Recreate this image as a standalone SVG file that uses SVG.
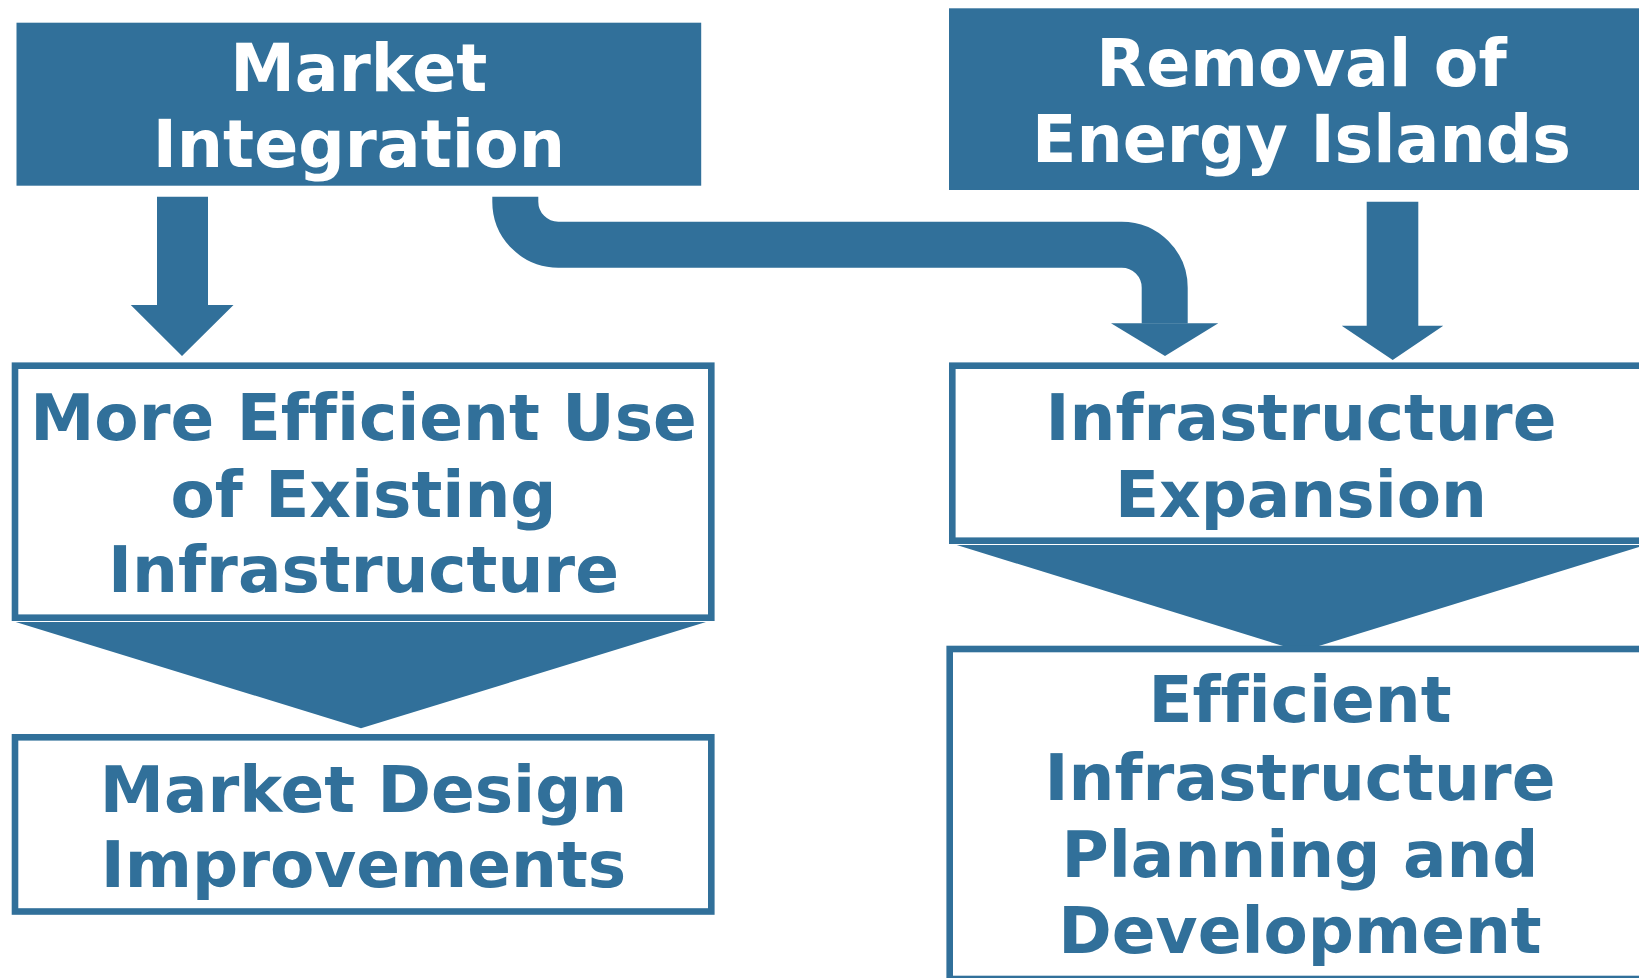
<svg xmlns="http://www.w3.org/2000/svg" width="1639" height="978" viewBox="0 0 1639 978">
<defs>
<style>
.fill{fill:#31709a;}
.box{fill:#ffffff;stroke:#31709a;stroke-width:6.6;}
.hd{font-family:"DejaVu Sans","Liberation Sans",sans-serif;font-weight:bold;font-size:65px;fill:#ffffff;text-anchor:middle;font-variant-ligatures:none;}
.bt{font-family:"DejaVu Sans","Liberation Sans",sans-serif;font-weight:bold;font-size:64.5px;fill:#31709a;text-anchor:middle;font-variant-ligatures:none;}
</style>
</defs>
<rect width="1639" height="978" fill="#ffffff"/>
<g id="connectors">
<polygon class="fill" points="157,196.7 208,196.7 208,305 233.5,305 182,356 130.8,305 157,305"/>
<path d="M515.3,196.7 L515.3,201.7 A43,43 0 0 0 558.3,244.7 L1121.7,244.7 A43,43 0 0 1 1164.7,287.7 L1164.7,323.5" fill="none" stroke="#31709a" stroke-width="46"/>
<polygon class="fill" points="1111,323.3 1218.3,323.3 1165,356"/>
<polygon class="fill" points="1366.7,201.7 1418.3,201.7 1418.3,325.7 1443.3,325.7 1392.7,360 1341.7,325.7 1366.7,325.7"/>
<polygon class="fill" points="15.7,622 706,622 361,728.3"/>
<polygon class="fill" points="956.7,545 1645.3,545 1301,651.5"/>
</g>
<g id="market-integration">
<rect class="fill" x="16.5" y="22.7" width="684.7" height="163"/>
<text class="hd" x="358.8" y="90.7">Market</text>
<text class="hd" x="358.8" y="167.3">Integration</text>
</g>
<g id="removal-energy-islands">
<rect class="fill" x="949" y="8.3" width="720" height="181.7"/>
<text class="hd" x="1301.5" y="85.7">Removal of</text>
<text class="hd" x="1301.5" y="162.3">Energy Islands</text>
</g>
<g id="more-efficient-use">
<rect class="box" x="15" y="365.7" width="696.3" height="252"/>
<text class="bt" x="363.5" y="440">More Efficient Use</text>
<text class="bt" x="363.5" y="516.5">of Existing</text>
<text class="bt" x="363.5" y="592.3">Infrastructure</text>
</g>
<g id="market-design">
<rect class="box" x="15" y="737.3" width="696.3" height="174.2"/>
<text class="bt" x="363.5" y="811.7">Market Design</text>
<text class="bt" x="363.5" y="887.3">Improvements</text>
</g>
<g id="infrastructure-expansion">
<rect class="box" x="952.3" y="365.7" width="750" height="175"/>
<text class="bt" x="1301" y="440">Infrastructure</text>
<text class="bt" x="1301" y="516.7">Expansion</text>
</g>
<g id="efficient-planning">
<rect class="box" x="949.7" y="649" width="750" height="330"/>
<text class="bt" x="1300" y="722.3">Efficient</text>
<text class="bt" x="1300" y="800">Infrastructure</text>
<text class="bt" x="1300" y="876.7">Planning and</text>
<text class="bt" x="1300" y="953.3">Development</text>
</g>
</svg>
